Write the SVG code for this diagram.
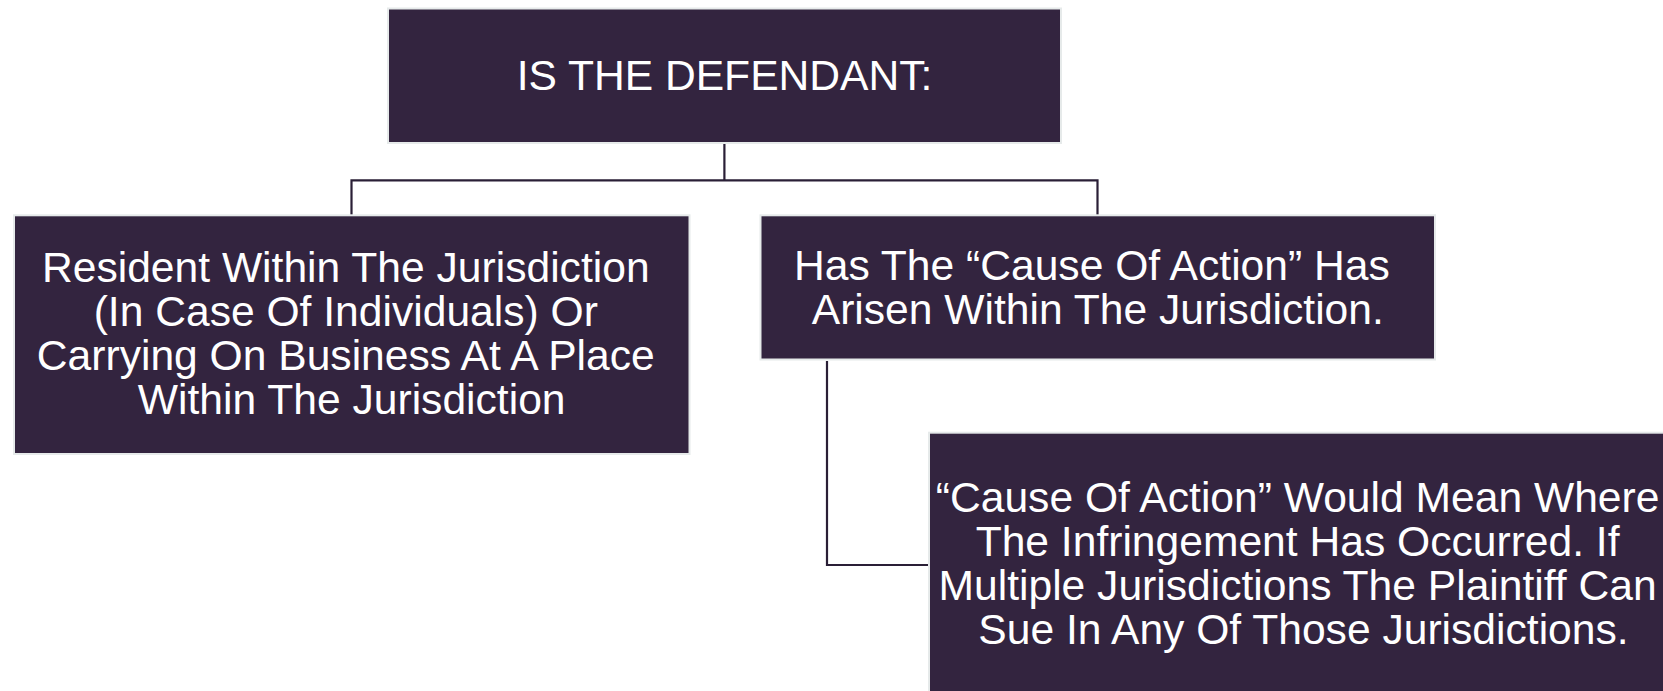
<svg xmlns="http://www.w3.org/2000/svg" width="1663" height="691" viewBox="0 0 1663 691">
  <style>
    .box { fill: #33243f; stroke: #e6eaea; stroke-width: 2; }
    .label { fill: #ffffff; font-family: "Liberation Sans", Arial, sans-serif; font-size: 42.6px; text-anchor: middle; }
    .link { fill: none; stroke: #2a1f36; stroke-width: 2.2; }
  </style>
  <rect width="1663" height="691" fill="#ffffff"/>

  <g id="connectors">
    <path class="link" d="M724.4,143 V180.3 M351.5,215 V180.3 H1097.5 V215"/>
    <path class="link" d="M827,361 V565 H929"/>
  </g>

  <g id="node-defendant">
    <rect class="box" x="388" y="8.5" width="673" height="134.5"/>
    <text class="label" x="724.5" y="90">IS THE DEFENDANT:</text>
  </g>

  <g id="node-resident">
    <rect class="box" x="14" y="215.3" width="675.5" height="238.7"/>
    <text class="label" x="351.7">
      <tspan x="351.7" y="282">Resident Within The Jurisdiction</tspan>
      <tspan x="351.7" y="326">(In Case Of Individuals) Or</tspan>
      <tspan x="351.7" y="370">Carrying On Business At A Place</tspan>
      <tspan x="351.7" y="414">Within The Jurisdiction</tspan>
    </text>
  </g>

  <g id="node-cause">
    <rect class="box" x="760.5" y="215.3" width="674.5" height="144.2"/>
    <text class="label">
      <tspan x="1097.8" y="280">Has The “Cause Of Action” Has</tspan>
      <tspan x="1097.8" y="324">Arisen Within The Jurisdiction.</tspan>
    </text>
  </g>

  <g id="node-meaning">
    <rect class="box" x="929" y="432.7" width="749" height="262"/>
    <text class="label">
      <tspan x="1303.5" y="512">“Cause Of Action” Would Mean Where</tspan>
      <tspan x="1303.5" y="556">The Infringement Has Occurred. If</tspan>
      <tspan x="1303.5" y="600">Multiple Jurisdictions The Plaintiff Can</tspan>
      <tspan x="1303.5" y="644">Sue In Any Of Those Jurisdictions.</tspan>
    </text>
  </g>
</svg>
